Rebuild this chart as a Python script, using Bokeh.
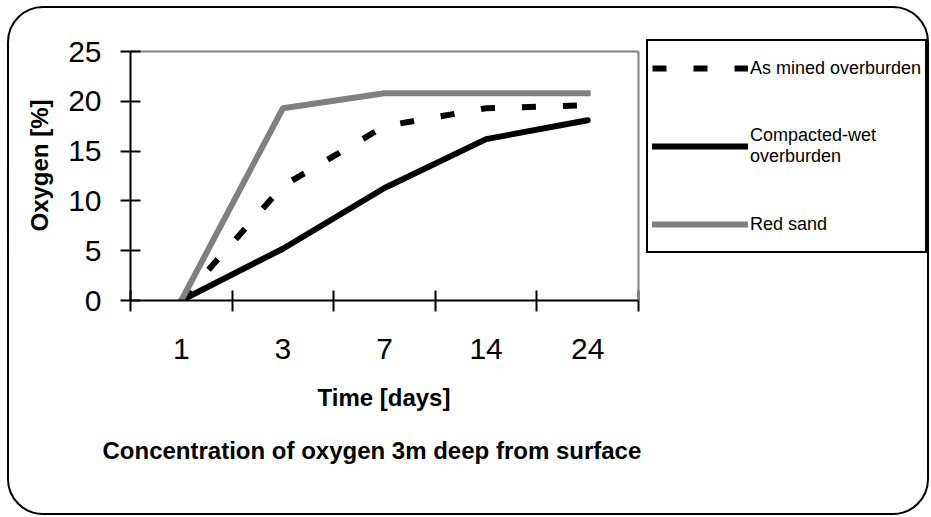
from urllib.parse import quote

from bokeh.plotting import figure
from bokeh.models import Range1d, FixedTicker, Legend, LegendItem, Title, LinearAxis
from bokeh.embed import file_html
from bokeh.resources import INLINE

# ---- data ----
days = ["1", "3", "7", "14", "24"]
as_mined = [0, 11.5, 17.5, 19.3, 19.6]
compacted_wet = [0, 5.2, 11.3, 16.2, 18.1]
red_sand = [0, 19.3, 20.8, 20.8, 20.8]
y_ticks = [0, 5, 10, 15, 20, 25]
series_names = ["As mined overburden", "Compacted-wet\noverburden", "Red sand"]
x_title = "Time [days]"
y_title = "Oxygen [%]"
title_text = "Concentration of oxygen 3m deep from surface"

FONT = "Liberation Sans"
GRAY = "#808080"

W, H = 931, 517
PL, PR, PT, PB = 130, 638, 51, 300   # plot box edges (page pixels)
FR, FT = 930, 30                      # drawing frame extends right/up to hold the legend

n = len(days)
y_max = y_ticks[-1]
x = [i + 0.5 for i in range(n)]
x_end = n * (FR - PL) / (PR - PL)
y_end = y_max * (PB - FT) / (PB - PT)

# rounded outer border of the chart area (page decoration behind the transparent canvas)
frame_svg = ("<svg xmlns='http://www.w3.org/2000/svg' width='%d' height='%d'>"
             "<rect x='8' y='7' width='920' height='507' rx='35' ry='35' "
             "fill='none' stroke='black' stroke-width='2'/></svg>") % (W, H)
frame_uri = "data:image/svg+xml," + quote(frame_svg)

p = figure(width=W, height=H, output_backend="svg", toolbar_location=None,
           x_range=Range1d(0, x_end), y_range=Range1d(0, y_end),
           min_border_left=PL, min_border_right=W - FR,
           min_border_top=FT, min_border_bottom=H - PB,
           y_axis_label=y_title,
           styles={"background-image": 'url("%s")' % frame_uri,
                   "background-repeat": "no-repeat",
                   "background-color": "white"})
p.grid.visible = False
p.outline_line_color = None
p.background_fill_color = None
p.border_fill_color = None

# series (Excel order: last drawn on top)
r_mined = p.line(x, as_mined, line_color="black", line_width=6, line_dash="14 27")
r_wet = p.line(x, compacted_wet, line_color="black", line_width=6,
               line_cap="round", line_join="round")
r_sand = p.line(x, red_sand, line_color=GRAY, line_width=6, line_cap="square")

# y axis
yax = p.yaxis[0]
yax.ticker = FixedTicker(ticks=y_ticks)
yax.bounds = (0, y_max)
yax.axis_line_width = 2
yax.axis_line_color = "black"
yax.major_tick_in = 10
yax.major_tick_out = 10
yax.major_tick_line_width = 2
yax.major_tick_line_color = "black"
yax.minor_tick_line_color = None
yax.major_label_text_font = FONT
yax.major_label_text_font_size = "30px"
yax.major_label_text_color = "black"
yax.major_label_standoff = 19
yax.axis_label_text_font = FONT
yax.axis_label_text_font_size = "24px"
yax.axis_label_text_font_style = "bold"
yax.axis_label_text_color = "black"
yax.axis_label_standoff = 12

# x axis: labels at category centres, tick marks at category boundaries
xax = p.xaxis[0]
xax.ticker = FixedTicker(ticks=x, minor_ticks=list(range(n + 1)))
xax.major_label_overrides = {xi: d for xi, d in zip(x, days)}
xax.bounds = (0, n)
xax.axis_line_width = 2
xax.axis_line_color = "black"
xax.major_tick_line_color = None
xax.major_tick_in = 0
xax.major_tick_out = 0
xax.minor_tick_in = 10
xax.minor_tick_out = 11
xax.minor_tick_line_width = 2
xax.minor_tick_line_color = "black"
xax.major_label_text_font = FONT
xax.major_label_text_font_size = "30px"
xax.major_label_text_color = "black"
xax.major_label_standoff = 27


def box_edge(**kw):
    ax = LinearAxis(ticker=FixedTicker(ticks=[]), axis_line_color=GRAY, axis_line_width=2,
                    major_tick_line_color=None, minor_tick_line_color=None,
                    major_tick_in=0, major_tick_out=0, minor_tick_in=0, minor_tick_out=0,
                    major_label_standoff=0, axis_label_standoff=0, **kw)
    return ax


# grey top and right edges of the plot box
p.add_layout(box_edge(fixed_location=y_max, bounds=(0, n)), "above")
p.add_layout(box_edge(fixed_location=n, bounds=(0, y_max)), "left")

# legend (inside the drawing frame, right of the plot box)
legend = Legend(
    items=[LegendItem(label=series_names[0], renderers=[r_mined]),
           LegendItem(label=series_names[1], renderers=[r_wet]),
           LegendItem(label=series_names[2], renderers=[r_sand])],
    location=(646 - PL, PB - 253), orientation="vertical", margin=0,
    padding=4, spacing=32, glyph_width=96, glyph_height=46, label_height=46,
    label_standoff=2, label_text_font=FONT, label_text_font_size="18px",
    label_text_color="black", border_line_color="black", border_line_width=2,
    border_line_alpha=1.0, background_fill_color="white", background_fill_alpha=1.0)
p.add_layout(legend, "center")

# x-axis title, under the middle of the plot box (left-aligned title with pixel offset)
xt = Title(text=x_title, align="left", offset=317 - PL, standoff=40,
           text_font=FONT, text_font_size="24px", text_font_style="bold",
           text_color="black")
p.add_layout(xt, "below")

# chart title below the axis title
title = Title(text=title_text, align="left", offset=102 - PL, standoff=9,
              text_font=FONT, text_font_size="24px", text_font_style="bold",
              text_color="black")
p.add_layout(title, "below")

open("out.html", "w").write(file_html(p, INLINE))
